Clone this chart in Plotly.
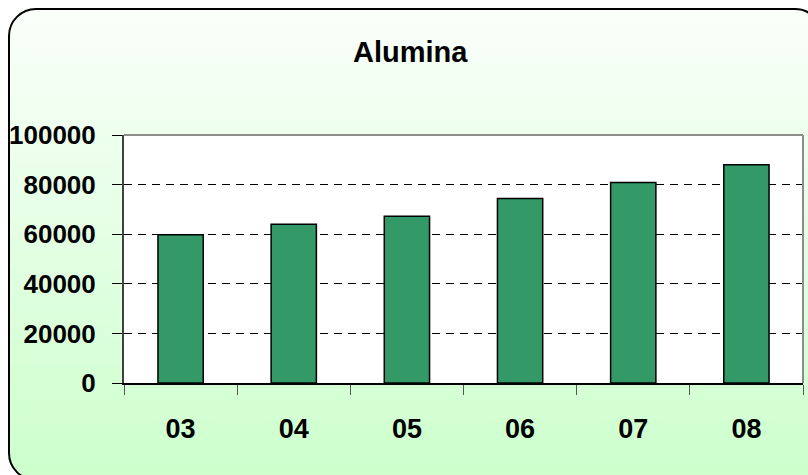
import plotly.graph_objects as go

# Alumina output by year
years = ["03", "04", "05", "06", "07", "08"]
alumina = [59800, 64000, 67200, 74400, 80800, 88000]

W, H = 808, 475
FONT = "Liberation Sans, Arial, sans-serif"

# plot area in pixels
PL, PR, PT, PB = 124, 803, 135, 383

# outer rounded frame in pixels
FX0, FY0, FX1, FY1, RAD = 9, 9, 822, 480, 27


def px(x):
    return x / W


def py(y):
    return 1 - y / H


def lerp_color(c0, c1, t):
    return "rgb({},{},{})".format(*[round(a + (b - a) * t) for a, b in zip(c0, c1)])


shapes = []

# vertical gradient behind the whole chart
top_col, bot_col = (250, 255, 250), (204, 255, 204)
n = 60
step = (FY1 - FY0) / n
for i in range(n):
    y0 = FY0 + i * step
    shapes.append(dict(
        type="rect", xref="paper", yref="paper", layer="below",
        x0=px(FX0), x1=px(FX1), y0=py(y0), y1=py(y0 + step + 0.6),
        fillcolor=lerp_color(top_col, bot_col, (i + 0.5) / n), line_width=0,
    ))

# white masks that round off the gradient corners
K = 0.5523


def corner_mask(cx, cy, sx, sy):
    # (cx, cy) is the square corner; sx, sy point inward
    ax, ay = cx + sx * RAD, cy
    bx, by = cx, cy + sy * RAD
    c1 = (cx + sx * RAD * (1 - K), cy)
    c2 = (cx, cy + sy * RAD * (1 - K))
    return ("M {},{} L {},{} C {},{} {},{} {},{} Z".format(
        px(cx), py(cy), px(ax), py(ay),
        px(c1[0]), py(c1[1]), px(c2[0]), py(c2[1]), px(bx), py(by)))


for cx, cy, sx, sy in [(FX0, FY0, 1, 1), (FX1, FY0, -1, 1), (FX0, FY1, 1, -1), (FX1, FY1, -1, -1)]:
    shapes.append(dict(type="path", xref="paper", yref="paper", layer="below",
                       path=corner_mask(cx, cy, sx, sy), fillcolor="white", line_width=0))


def rounded_rect():
    r = RAD
    k = RAD * K
    pts = [
        ("M", [(FX0 + r, FY0)]),
        ("L", [(FX1 - r, FY0)]),
        ("C", [(FX1 - r + k, FY0), (FX1, FY0 + r - k), (FX1, FY0 + r)]),
        ("L", [(FX1, FY1 - r)]),
        ("C", [(FX1, FY1 - r + k), (FX1 - r + k, FY1), (FX1 - r, FY1)]),
        ("L", [(FX0 + r, FY1)]),
        ("C", [(FX0 + r - k, FY1), (FX0, FY1 - r + k), (FX0, FY1 - r)]),
        ("L", [(FX0, FY0 + r)]),
        ("C", [(FX0, FY0 + r - k), (FX0 + r - k, FY0), (FX0 + r, FY0)]),
    ]
    out = []
    for cmd, ps in pts:
        out.append(cmd + " " + " ".join("{},{}".format(px(a), py(b)) for a, b in ps))
    return " ".join(out) + " Z"


shapes.append(dict(type="path", xref="paper", yref="paper", layer="above",
                   path=rounded_rect(), line=dict(color="black", width=2)))

# white plot area
shapes.append(dict(type="rect", xref="x domain", yref="y domain", layer="below",
                   x0=0, x1=1, y0=0, y1=1, fillcolor="white", line_width=0))
# grey top and right borders of the plot area
shapes.append(dict(type="line", xref="x domain", yref="y domain", layer="above",
                   x0=0, x1=1, y0=1, y1=1, line=dict(color="#8c8c8c", width=2)))
shapes.append(dict(type="line", xref="x domain", yref="y domain", layer="above",
                   x0=1, x1=1, y0=0, y1=1, line=dict(color="#8c8c8c", width=2)))

fig = go.Figure(go.Bar(
    x=years, y=alumina,
    marker=dict(color="#339966", line=dict(color="black", width=1.5)),
    hoverinfo="x+y",
))

fig.update_layout(
    width=W, height=H,
    margin=dict(l=0, r=0, t=0, b=0),
    paper_bgcolor="white",
    plot_bgcolor="rgba(0,0,0,0)",
    bargap=0.6,
    showlegend=False,
    shapes=shapes,
    font=dict(family=FONT, color="black"),
    annotations=[dict(
        text="Alumina", x=px(410), y=py(52), xref="paper", yref="paper",
        showarrow=False, xanchor="center", yanchor="middle",
        font=dict(family=FONT, size=29, color="black", weight="bold"),
    )],
)

fig.update_xaxes(
    domain=[px(PL), px(PR)],
    type="category",
    showline=True, linecolor="black", linewidth=2,
    ticks="outside", tickson="boundaries", ticklen=10, tickcolor="#555555", tickwidth=1,
    tickfont=dict(family=FONT, size=27, color="black", weight="bold"),
    ticklabelstandoff=21,
    showgrid=False, automargin=False,
)

fig.update_yaxes(
    domain=[py(PB), py(PT)],
    range=[0, 100000], dtick=20000, tickformat="d",
    showline=True, linecolor="#404040", linewidth=2,
    ticks="outside", ticklen=10, tickcolor="black", tickwidth=1,
    tickfont=dict(family=FONT, size=26, color="black", weight="bold"),
    ticklabelstandoff=11,
    showgrid=True, gridcolor="black", gridwidth=1, griddash="8px,6px",
    zeroline=False, automargin=False,
)

fig.write_html("out.html")
